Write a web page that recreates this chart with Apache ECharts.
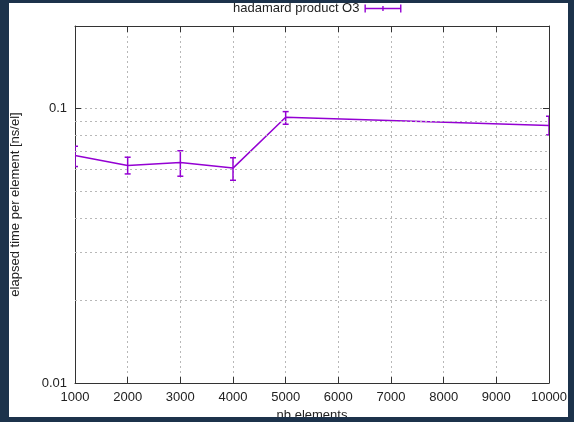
<!DOCTYPE html>
<html>
<head>
<meta charset="utf-8">
<script src="https://cdn.jsdelivr.net/npm/echarts@6/dist/echarts.min.js"></script>
<style>
  html, body { margin: 0; padding: 0; background: #1c324b; }
  #chart { position: absolute; left: 9px; top: 3px; width: 559px; height: 414px; background: #fff; }
</style>
</head>
<body>
<div id="chart"></div>
<script>
// measurements: nb elements -> elapsed time per element [ns/el]
var xValues = [1000, 2000, 3000, 4000, 5000, 10000]
var yValues = [0.0675, 0.0620, 0.0636, 0.0607, 0.0930, 0.0868]
var yLow = [0.0615, 0.0578, 0.0567, 0.0548, 0.0877, 0.0802]
var yHigh = [0.0729, 0.0665, 0.0702, 0.0662, 0.0975, 0.0938]
var minorGrid = [0.02, 0.03, 0.04, 0.05, 0.06, 0.07, 0.08, 0.09]
var seriesName = 'hadamard product O3'

var FONT = 'Liberation Sans'
var COLOR = '#9400d3'
var FRAME = '#333'
var GRID = '#b8b8b8'

var myChart = echarts.init(document.getElementById('chart'))

var lineData = xValues.map(function (x, i) { return [x, yValues[i]] })
var errData = xValues.map(function (x, i) { return [x, yLow[i], yHigh[i]] })

function renderErr (params, api) {
  var lo = api.coord([api.value(0), api.value(1)])
  var hi = api.coord([api.value(0), api.value(2)])
  var c = 3
  var st = { stroke: COLOR, lineWidth: 1.5 }
  return {
    type: 'group',
    children: [
      { type: 'line', shape: { x1: lo[0], y1: lo[1], x2: hi[0], y2: hi[1] }, style: st },
      { type: 'line', shape: { x1: lo[0] - c, y1: lo[1], x2: lo[0] + c, y2: lo[1] }, style: st },
      { type: 'line', shape: { x1: hi[0] - c, y1: hi[1], x2: hi[0] + c, y2: hi[1] }, style: st }
    ]
  }
}

var xBase = {
  type: 'value',
  min: 1000,
  max: 10000,
  interval: 1000,
  axisLine: { show: true, lineStyle: { color: FRAME, width: 1 } },
  axisTick: { show: true, inside: true, length: 6, lineStyle: { color: FRAME } }
}
var yBase = {
  type: 'log',
  logBase: 10,
  min: 0.01,
  max: 0.2,
  axisLine: { show: true, lineStyle: { color: FRAME, width: 1 } },
  axisTick: { show: true, inside: true, length: 6, lineStyle: { color: FRAME } }
}

var option = {
  animation: false,
  textStyle: { fontFamily: FONT },
  grid: { left: 66, right: 19, top: 23, bottom: 34, containLabel: false, outerBoundsMode: 'none' },
  legend: {
    data: [seriesName],
    top: -6,
    left: 219,
    align: 'right',
    itemWidth: 37,
    itemHeight: 8,
    itemGap: 4,
    icon: 'path://M0,3.3h37v1.4h-37z M0,0h1.4v8h-1.4z M35.6,0h1.4v8h-1.4z M17.8,1.5h1.4v5h-1.4z',
    textStyle: { fontFamily: FONT, fontSize: 13, color: '#222', padding: [0, 0, 0, 0] }
  },
  xAxis: [
    Object.assign({}, xBase, {
      position: 'bottom',
      name: 'nb elements',
      nameLocation: 'middle',
      nameGap: 25,
      nameTextStyle: { fontFamily: FONT, fontSize: 13, color: '#222' },
      axisLabel: {
        fontFamily: FONT, fontSize: 13, color: '#222', margin: 8,
        formatter: function (v) { return String(v) }
      },
      splitLine: { show: true, lineStyle: { color: GRID, type: [2, 3], width: 1 } }
    }),
    Object.assign({}, xBase, {
      position: 'top',
      axisLabel: { show: false },
      splitLine: { show: false }
    })
  ],
  yAxis: [
    Object.assign({}, yBase, {
      position: 'left',
      name: 'elapsed time per element [ns/el]',
      nameLocation: 'middle',
      nameGap: 53,
      nameTextStyle: { fontFamily: FONT, fontSize: 13, color: '#222' },
      axisLabel: {
        fontFamily: FONT, fontSize: 13, color: '#222', margin: 8,
        formatter: function (v) {
          if (Math.abs(v - 0.1) < 1e-9) return '0.1'
          if (Math.abs(v - 0.01) < 1e-9) return '0.01'
          return ''
        }
      },
      splitLine: { show: true, lineStyle: { color: GRID, type: [2, 3], width: 1 } }
    }),
    Object.assign({}, yBase, {
      position: 'right',
      axisLabel: { show: false },
      splitLine: { show: false }
    })
  ],
  series: [
    {
      name: 'minor grid',
      type: 'line',
      data: [],
      z: 1,
      silent: true,
      markLine: {
        silent: true,
        symbol: 'none',
        label: { show: false },
        lineStyle: { color: GRID, type: [2, 3], width: 1 },
        data: minorGrid.map(function (v) { return { yAxis: v } })
      }
    },
    {
      name: seriesName,
      type: 'line',
      data: lineData,
      symbol: 'none',
      z: 3,
      itemStyle: { color: COLOR },
      lineStyle: { color: COLOR, width: 1.5 }
    },
    {
      name: 'errors',
      type: 'custom',
      data: errData,
      z: 4,
      clip: true,
      renderItem: renderErr,
      encode: { x: 0, y: [1, 2] }
    }
  ]
}

myChart.setOption(option)
</script>
</body>
</html>
